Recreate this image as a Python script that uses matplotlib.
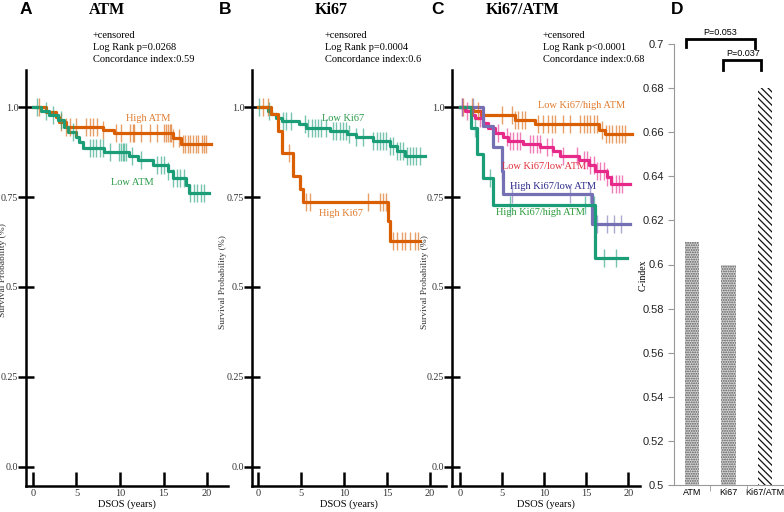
import matplotlib
matplotlib.use('Agg')
import matplotlib.pyplot as plt
import numpy as np

W, H = 784, 512
serif = 'Liberation Serif'
sans = 'Liberation Sans'

orange = '#D95F02'
green = '#1B9E77'
purple = '#7570B3'
pink = '#E7298A'

# ---- panel A: ATM ----
t_hi_atm = [0, 1.5, 2.6, 3.0, 3.8, 8.0, 9.3, 16.1, 17.0, 20.5]
s_hi_atm = [1.0, 0.985, 0.972, 0.958, 0.944, 0.936, 0.928, 0.914, 0.897, 0.897]
c_hi_atm = [0.7, 3.2, 3.8, 4.2, 4.9, 6.1, 6.5, 6.9, 7.4, 8.0, 9.5, 10.1, 11.1, 11.5,
            11.6, 12.4, 13.4, 14.3, 15.1, 15.3, 15.5, 15.7, 15.9, 16.1, 16.8, 17.2,
            17.5, 17.8, 18.1, 18.4, 18.7, 19.0, 19.4, 19.7, 19.9]

t_lo_atm = [0, 0.9, 1.8, 2.9, 3.6, 4.0, 4.9, 5.3, 5.7, 8.2, 11.0, 12.1, 13.8, 15.5,
            16.1, 17.6, 17.9, 20.2]
s_lo_atm = [1.0, 0.99, 0.978, 0.964, 0.944, 0.931, 0.917, 0.903, 0.886, 0.875, 0.864,
            0.853, 0.839, 0.822, 0.803, 0.783, 0.761, 0.761]
c_lo_atm = [0.5, 1.5, 2.3, 3.2, 4.6, 6.5, 6.9, 7.3, 7.7, 8.1, 8.9, 9.9, 10.1, 10.3,
            10.5, 10.7, 11.4, 12.4, 14.3, 14.7, 15.1, 15.5, 16.1, 16.5, 16.9, 17.3,
            18.1, 18.5, 18.9, 19.3, 19.7]

# ---- panel B: Ki67 ----
t_lo_ki = [0, 1.1, 1.5, 2.1, 2.8, 4.8, 5.6, 8.3, 10.3, 11.4, 13.4, 15.3, 16.1, 17.1, 19.4]
s_lo_ki = [1.0, 0.990, 0.980, 0.971, 0.962, 0.953, 0.943, 0.934, 0.925, 0.916, 0.906,
           0.892, 0.878, 0.864, 0.864]
c_lo_ki = [0.1, 1.3, 2.85, 3.25, 3.8, 5.4, 5.8, 6.2, 6.55, 6.95, 7.3, 7.9, 8.7, 9.1,
           9.5, 9.9, 10.25, 10.6, 11.4, 12.2, 13.4, 13.8, 14.15, 14.5, 14.9, 15.3,
           15.7, 16.1, 16.5, 16.9, 17.3, 17.7, 18.05, 18.4, 18.8]

t_hi_ki = [0, 1.48, 2.26, 2.77, 4.02, 4.88, 5.2, 15.13, 15.33, 18.8]
s_hi_ki = [1.0, 0.980, 0.934, 0.871, 0.809, 0.772, 0.737, 0.683, 0.628, 0.628]
c_hi_ki = [0.5, 1.1, 3.6, 5.6, 6.0, 12.8, 14.15, 14.5, 14.9, 15.7, 16.1, 16.7, 17.1,
           17.7, 18.2, 18.6]

# ---- panel C: Ki67/ATM ----
t_lk_ha = [0, 1.5, 2.5, 6.5, 8.9, 16.5, 17.2, 20.4]
s_lk_ha = [1.0, 0.988, 0.978, 0.965, 0.952, 0.937, 0.925, 0.925]
c_lk_ha = [0.4, 1.4, 2.2, 5.0, 6.15, 6.55, 6.95, 7.35, 7.75, 9.3, 9.9, 10.5, 10.9,
           11.3, 12.3, 13.1, 14.3, 14.7, 15.1, 15.5, 15.9, 16.3, 16.9, 17.3, 17.7,
           18.1, 18.5, 18.9, 19.3, 19.6]

t_lk_la = [0, 0.6, 1.39, 1.79, 2.78, 3.37, 4.17, 5.16, 5.75, 7.54, 9.52, 11.1, 11.9,
           14.1, 15.3, 16.1, 17.5, 17.9, 20.2]
s_lk_la = [1.0, 0.989, 0.978, 0.969, 0.957, 0.943, 0.929, 0.916, 0.906, 0.897, 0.888,
           0.877, 0.864, 0.852, 0.839, 0.822, 0.806, 0.785, 0.785]
c_lk_la = [0.2, 0.8, 2.4, 4.55, 5.55, 5.95, 6.35, 6.75, 7.15, 8.3, 8.7, 9.1, 9.5,
           10.3, 10.9, 12.3, 13.9, 14.7, 15.1, 15.5, 15.9, 16.3, 16.7, 17.1, 17.5,
           18.1, 18.5, 18.9, 19.3]

t_hk_la = [0, 2.78, 3.97, 4.96, 5.16, 15.7, 20.2]
s_hk_la = [1.0, 0.946, 0.888, 0.822, 0.759, 0.674, 0.674]
c_hk_la = [0.2, 1.6, 4.96, 6.15, 13.1, 15.5, 16.3, 17.5, 18.3, 19.1]

t_hk_ha = [0, 1.27, 1.98, 2.7, 3.97, 16.0, 19.8]
s_hk_ha = [1.0, 0.943, 0.869, 0.804, 0.728, 0.580, 0.580]
c_hk_ha = [1.8, 3.6, 5.95, 14.9, 15.9, 17.1, 18.5]

# ---- panel D: C-index ----
models = ['ATM', 'Ki67', 'Ki67/ATM']
c_index = [0.61, 0.60, 0.68]


def px_axes(fig, left, top, right, bottom):
    return fig.add_axes([left / W, 1 - bottom / H, (right - left) / W, (bottom - top) / H])


def ftext(fig, x, y, s, **kw):
    return fig.text(x / W, 1 - y / H, s, **kw)


def step_at(t, s, tc):
    idx = np.searchsorted(t, tc, side='right') - 1
    return np.array(s)[idx]


def draw_curve(ax, t, s, cens, color):
    ax.step(t, s, where='post', color=color, lw=2.3, zorder=3)
    ax.plot(cens, step_at(t, s, cens), ls='none', marker='|', ms=13, mew=1.0,
            color=color, alpha=0.6, zorder=4)


def km_axes(fig, left, right, xlim):
    ax = px_axes(fig, left, 70, right, 486)
    ax.set_xlim(xlim)
    ax.set_ylim(-0.053, 1.103)
    for sp in ['top', 'right']:
        ax.spines[sp].set_visible(False)
    for sp in ['left', 'bottom']:
        ax.spines[sp].set_linewidth(1.8)
    ax.set_xticks([0, 5, 10, 15, 20])
    ax.set_yticks([0, 0.25, 0.5, 0.75, 1.0])
    ax.set_yticklabels(['0.0', '0.25', '0.5', '0.75', '1.0'])
    ax.tick_params(width=1.8, labelsize=7.5, labelcolor='#333')
    ax.tick_params(axis='y', direction='inout', length=11, pad=0, labelsize=7.2)
    ax.tick_params(axis='x', direction='in', length=10, pad=2)
    for lab in ax.get_xticklabels() + ax.get_yticklabels():
        lab.set_family(serif)
    ax.set_xlabel('DSOS (years)', fontsize=7.5, family=serif, labelpad=1)
    return ax


fig = plt.figure(figsize=(W / 100, H / 100), dpi=100)

# panel A
axA = km_axes(fig, 26, 228, (-0.80, 22.41))
draw_curve(axA, t_hi_atm, s_hi_atm, c_hi_atm, orange)
draw_curve(axA, t_lo_atm, s_lo_atm, c_lo_atm, green)
axA.text(13.2, 0.968, 'High ATM', color='#E07B2E', fontsize=7.5, family=serif, ha='center', va='center')
axA.text(11.4, 0.789, 'Low ATM', color='#2A9A4A', fontsize=7.5, family=serif, ha='center', va='center')

# panel B
axB = km_axes(fig, 252, 446, (-0.73, 21.86))
draw_curve(axB, t_lo_ki, s_lo_ki, c_lo_ki, green)
draw_curve(axB, t_hi_ki, s_hi_ki, c_hi_ki, orange)
axB.text(9.9, 0.968, 'Low Ki67', color='#2A9A4A', fontsize=7.5, family=serif, ha='center', va='center')
axB.text(9.6, 0.705, 'High Ki67', color='#E07B2E', fontsize=7.5, family=serif, ha='center', va='center')

# panel C
axC = km_axes(fig, 452, 640, (-0.95, 21.4))
draw_curve(axC, t_lk_ha, s_lk_ha, c_lk_ha, orange)
draw_curve(axC, t_lk_la, s_lk_la, c_lk_la, pink)
draw_curve(axC, t_hk_la, s_hk_la, c_hk_la, purple)
draw_curve(axC, t_hk_ha, s_hk_ha, c_hk_ha, green)
axC.text(14.4, 1.005, 'Low Ki67/high ATM', color='#E07B2E', fontsize=7.5, family=serif, ha='center', va='center')
axC.text(10.0, 0.836, 'Low Ki67/low ATM', color='#E0303C', fontsize=7.5, family=serif, ha='center', va='center')
axC.text(11.1, 0.780, 'High Ki67/low ATM', color='#2B2A8C', fontsize=7.5, family=serif, ha='center', va='center')
axC.text(9.6, 0.708, 'High Ki67/high ATM', color='#2A9A3A', fontsize=7.5, family=serif, ha='center', va='center')

# panel headers, stats and y labels
for x, letter in [(26, 'A'), (225, 'B'), (437, 'C'), (677, 'D')]:
    ftext(fig, x, 9, letter, fontsize=12.5, weight='bold', family=sans, ha='center', va='center')
for x, title in [(107, 'ATM'), (331, 'Ki67'), (523, 'Ki67/ATM')]:
    ftext(fig, x, 10, title, fontsize=11.5, weight='bold', family=serif, ha='center', va='center')
stats = [(93, 'Log Rank p=0.0268', 'Concordance index:0.59'),
         (325, 'Log Rank p=0.0004', 'Concordance index:0.6'),
         (543, 'Log Rank p<0.0001', 'Concordance index:0.68')]
for x, p, ci in stats:
    ftext(fig, x, 35, '+censored', fontsize=7.5, family=serif, va='center')
    ftext(fig, x, 48, p, fontsize=7.5, family=serif, va='center')
    ftext(fig, x, 60, ci, fontsize=7.5, family=serif, va='center')
for x, y in [(3.2, 270), (223, 282), (425, 282)]:
    ftext(fig, x, y, 'Survival Probability (%)', fontsize=6.8, family=serif,
          rotation=90, ha='center', va='center', color='#333')

# panel D
plt.rcParams['hatch.linewidth'] = 0.9
axD = px_axes(fig, 674, 44, 784, 485)
pos = np.arange(len(models))
styles = [('#d6d6d6', '#5a5a5a', '.......'), ('#d6d6d6', '#5a5a5a', '.......'),
          ('white', '#111111', '\\\\\\\\\\')]
for i, (fc, ec, hatch) in enumerate(styles):
    axD.bar(pos[i], c_index[i], width=0.4, bottom=0, color=fc, edgecolor=ec,
            hatch=hatch, linewidth=0)
axD.set_xlim(-0.493, 2.52)
axD.set_ylim(0.5, 0.7)
yt = np.arange(0.5, 0.7001, 0.02)
axD.set_yticks(yt)
axD.set_yticklabels([('%.2f' % v).rstrip('0').rstrip('.') for v in yt])
for sp in ['top', 'right']:
    axD.spines[sp].set_visible(False)
for sp in ['left', 'bottom']:
    axD.spines[sp].set_color('#999999')
    axD.spines[sp].set_linewidth(0.8)
axD.tick_params(axis='y', length=4, color='#999999', labelsize=8, labelcolor='#222', pad=3)
axD.set_xticks(pos)
axD.set_xticklabels(models)
axD.set_xticks([0.5, 1.5], minor=True)
axD.tick_params(axis='x', which='major', length=0, labelsize=6.5, pad=2)
axD.tick_params(axis='x', which='minor', length=4, color='#999999')
for lab in axD.get_xticklabels() + axD.get_yticklabels():
    lab.set_family(sans)

axD.plot([-0.164, -0.164, 1.726, 1.726], [0.6986, 0.7023, 0.7023, 0.6984],
         color='k', lw=2, clip_on=False, solid_joinstyle='miter')
axD.text(0.76, 0.7054, 'P=0.053', fontsize=6.5, family=sans, ha='center', va='center')
axD.plot([0.849, 0.849, 1.890, 1.890], [0.6882, 0.6927, 0.6927, 0.6882],
         color='k', lw=2, clip_on=False, solid_joinstyle='miter')
axD.text(1.395, 0.6959, 'P=0.037', fontsize=6.5, family=sans, ha='center', va='center')
ftext(fig, 643, 275, 'C-index', fontsize=7, family=serif, rotation=90, ha='center', va='center')

fig.savefig('out.png', dpi=100)
